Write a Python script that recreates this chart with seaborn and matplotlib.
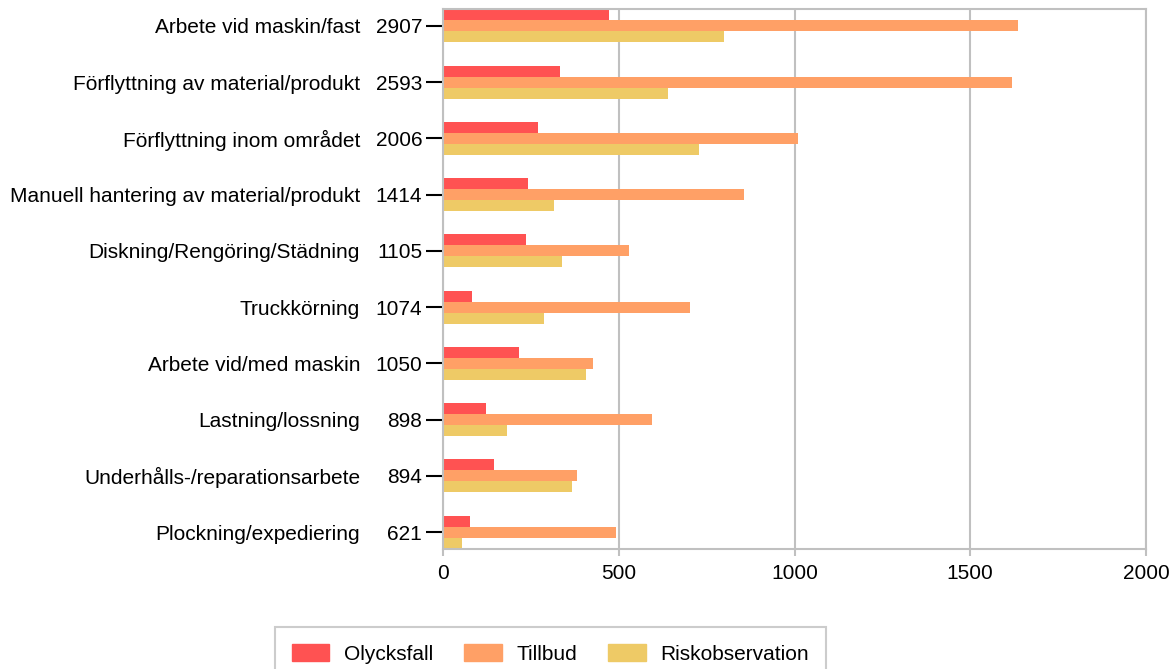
import numpy as np
import pandas as pd
import matplotlib
matplotlib.use("Agg")
import matplotlib.pyplot as plt
import seaborn as sns

# ── Data ──────────────────────────────────────────────────────────────────────
categories = ["Arbete vid maskin/fast", "Förflyttning av material/produkt",
              "Förflyttning inom området", "Manuell hantering av material/produkt",
              "Diskning/Rengöring/Städning", "Truckkörning", "Arbete vid/med maskin",
              "Lastning/lossning", "Underhålls-/reparationsarbete", "Plockning/expediering"]
totals = [2907, 2593, 2006, 1414, 1105, 1074, 1050, 898, 894, 621]
olycksfall = [473, 332, 270, 242, 236, 82, 215, 122, 144, 76]
tillbud = [1635, 1620, 1009, 855, 530, 704, 428, 595, 382, 492]
riskobs = [799, 641, 727, 317, 339, 288, 407, 181, 368, 53]
series = ["Olycksfall", "Tillbud", "Riskobservation"]
colors = ["#FF5252", "#FFA066", "#EECA66"]

df = pd.DataFrame({"category": categories * 3,
                   "value": olycksfall + tillbud + riskobs,
                   "type": [s for s in series for _ in categories]})

# ── Plot ──────────────────────────────────────────────────────────────────────
sns.set_style("white")
plt.rcParams["font.family"] = ["Liberation Sans", "DejaVu Sans"]
plt.rcParams["text.color"] = "black"
plt.rcParams["xtick.labelcolor"] = "black"
plt.rcParams["ytick.labelcolor"] = "black"
FS = 15

fig = plt.figure(figsize=(11.71, 6.69), dpi=100)
ax = fig.add_axes([443/1171, 1 - 549/669, (1146-443)/1171, (549-9)/669])

sns.barplot(data=df, x="value", y="category", hue="type", orient="h",
            palette=colors, width=0.59, gap=0, saturation=1, ax=ax,
            order=categories, hue_order=series, edgecolor="none")

ax.set_xlim(0, 2000)
ax.set_ylim(len(categories) - 1 + 0.3, -0.3)
ax.set_xticks([0, 500, 1000, 1500, 2000])
ax.set_xlabel("")
ax.set_ylabel("")
ax.grid(axis="x", color="#c0c0c0", linewidth=1.5)
ax.set_axisbelow(True)
for sp in ax.spines.values():
    sp.set_visible(True)
    sp.set_color("#c0c0c0")
    sp.set_linewidth(1.5)

ax.set_yticks(range(len(categories)))
ax.set_yticklabels([str(t) for t in totals])
ax.tick_params(axis="y", length=12, width=1.5, color="black", pad=3, labelsize=FS, left=True)
ax.tick_params(axis="x", length=5, width=1.5, color="#c0c0c0", pad=6, labelsize=FS, bottom=True)

for i, name in enumerate(categories):
    ax.text(-0.118, i, name, transform=ax.get_yaxis_transform(),
            ha="right", va="center_baseline", fontsize=FS, color="black")

ax.get_legend().remove()
handles = [plt.Rectangle((0, 0), 1, 1, color=c) for c in colors]
leg = fig.legend(handles, series, loc="upper center", bbox_to_anchor=(0.47, 1 - 627/669),
                 ncol=3, fontsize=FS, frameon=True, fancybox=False,
                 handlelength=1.8, handleheight=0.9, handletextpad=0.7,
                 columnspacing=1.5, borderpad=0.8, borderaxespad=0)
leg.get_frame().set_edgecolor("#c0c0c0")
leg.get_frame().set_linewidth(1.5)

plt.savefig("out.png", dpi=100)
plt.close()
